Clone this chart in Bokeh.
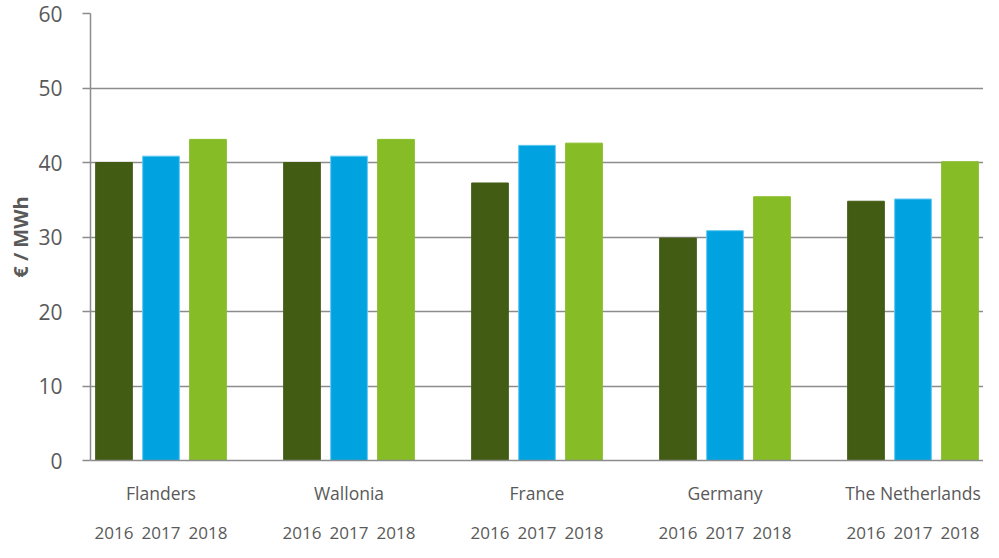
from bokeh.plotting import figure
from bokeh.models import FactorRange, CategoricalAxis, Range1d, ColumnDataSource, Title
from bokeh.transform import factor_cmap
from bokeh.embed import file_html
from bokeh.resources import INLINE

countries = ["Flanders", "Wallonia", "France", "Germany", "The Netherlands"]
years = ["2016", "2017", "2018"]
v2016 = [40.0, 40.0, 37.25, 29.85, 34.8]
v2017 = [40.85, 40.85, 42.3, 30.85, 35.1]
v2018 = [43.1, 43.1, 42.6, 35.4, 40.1]
y_ticks = [0, 10, 20, 30, 40, 50, 60]

FONT = "Open Sans"
TXT = "#595959"
GRID = "#8c8c8c"

factors = [(c, y) for c in countries for y in years]
tops = []
for i in range(len(countries)):
    tops += [v2016[i], v2017[i], v2018[i]]
src = ColumnDataSource(dict(x=factors, top=tops))

xr = FactorRange(*factors, group_padding=1.0, factor_padding=0.0, range_padding=0.0)
p = figure(x_range=xr, y_range=Range1d(0, 60), width=983, height=542,
           output_backend="svg", toolbar_location=None, x_axis_location=None,
           min_border_left=90, min_border_right=0, min_border_top=13, min_border_bottom=82)
p.extra_x_ranges = {"countries": FactorRange(*countries, factor_padding=1/3, range_padding=0.0)}

p.vbar(x="x", top="top", width=0.78, source=src,
       fill_color=factor_cmap("x", ["#435c14", "#00a3e0", "#86bc25"], years, start=1, end=2),
       line_color=factor_cmap("x", ["#435c14", "#5ec8f2", "#86bc25"], years, start=1, end=2),
       line_width=1)

p.outline_line_color = None
p.xgrid.grid_line_color = None
p.ygrid.grid_line_color = GRID
p.ygrid.grid_line_width = 1.5

ya = p.yaxis[0]
ya.ticker = y_ticks
ya.axis_line_color = GRID
ya.axis_line_width = 1.5
ya.major_tick_line_color = GRID
ya.major_tick_line_width = 1.5
ya.major_tick_out = 8
ya.major_tick_in = 0
ya.minor_tick_line_color = None
ya.major_label_standoff = 20
ya.major_label_text_font = FONT
ya.major_label_text_font_size = "21px"
ya.major_label_text_color = TXT

ylab = Title(text="€ / MWh", align="center", offset=-40, standoff=4,
             text_font=FONT, text_font_size="20px", text_font_style="bold",
             text_color=TXT)
p.add_layout(ylab, "left")

ax_c = CategoricalAxis(x_range_name="countries")
ax_c.axis_line_color = GRID
ax_c.axis_line_width = 1.5
ax_c.major_tick_line_color = None
ax_c.minor_tick_line_color = None
ax_c.major_label_standoff = 14
ax_c.major_label_text_font = FONT
ax_c.major_label_text_font_size = "17.5px"
ax_c.major_label_text_color = TXT
p.add_layout(ax_c, "below")

ax_y = CategoricalAxis()
ax_y.axis_line_color = None
ax_y.major_tick_line_color = None
ax_y.minor_tick_line_color = None
ax_y.separator_line_color = None
ax_y.group_text_font_size = "1px"
ax_y.group_text_alpha = 0
ax_y.major_label_standoff = 13
ax_y.major_label_text_font = FONT
ax_y.major_label_text_font_size = "17px"
ax_y.major_label_text_color = TXT
p.add_layout(ax_y, "below")

open("out.html", "w").write(file_html(p, INLINE))
